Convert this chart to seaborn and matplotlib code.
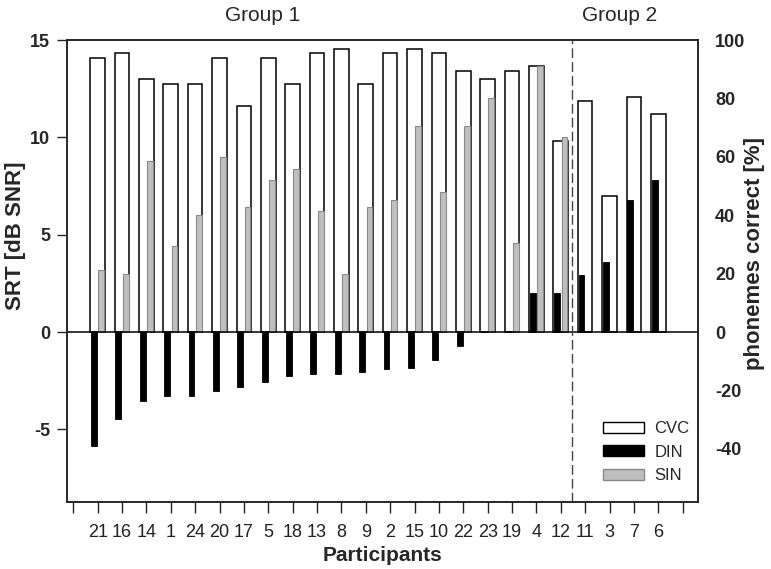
import matplotlib
matplotlib.use('Agg')
import matplotlib.pyplot as plt
from matplotlib.patches import Patch
import numpy as np
import pandas as pd
import seaborn as sns

participants = ['21', '16', '14', '1', '24', '20', '17', '5', '18', '13', '8', '9',
                '2', '15', '10', '22', '23', '19', '4', '12', '11', '3', '7', '6']
cvc_pct = [94, 95.5, 86.5, 85, 85, 94, 77.5, 94, 85, 95.5, 97, 85,
           95.5, 97, 95.5, 89.5, 86.5, 89.5, 91, 65.5, 79, 46.5, 80.5, 74.5]
din_srt = [-5.85, -4.45, -3.55, -3.3, -3.3, -3.0, -2.8, -2.55, -2.25, -2.15, -2.15, -2.05,
           -1.9, -1.85, -1.45, -0.7, 0.0, 0.05, 2.0, 2.0, 2.95, 3.6, 6.8, 7.8]
sin_srt = [3.2, 3.0, 8.8, 4.4, 6.0, 9.0, 6.4, 7.8, 8.4, 6.2, 3.0, 6.4,
           6.8, 10.6, 7.2, 10.6, 12.0, 4.6, 13.65, 10.0, np.nan, np.nan, np.nan, np.nan]
groups = ['Group 1', 'Group 2']
group_centers = [7.77, 22.4]

# blank slots at both ends, as in the original axis
order = [' '] + participants + ['  ']

sns.set_style('white')
plt.rcParams['font.family'] = ['Liberation Sans', 'DejaVu Sans']
plt.rcParams['axes.unicode_minus'] = False

fig = plt.figure(figsize=(7.71, 5.69), dpi=100)
ax = fig.add_axes([0.0865, 0.1186, 0.8192, 0.8111])
ax2 = ax.twinx()

cvc = pd.DataFrame({'participant': participants, 'cvc': cvc_pct})
sns.barplot(data=cvc, x='participant', y='cvc', order=order, color='white',
            edgecolor='black', linewidth=1.1, width=0.6, saturation=1,
            errorbar=None, ax=ax2)

tests = pd.DataFrame({'participant': participants * 2,
                      'test': ['DIN'] * len(participants) + ['SIN'] * len(participants),
                      'srt': din_srt + sin_srt})
sns.barplot(data=tests, x='participant', y='srt', hue='test', order=order,
            hue_order=['DIN', 'SIN'], palette={'DIN': 'black', 'SIN': '#bfbfbf'},
            width=0.6, gap=0.2, saturation=1, errorbar=None, legend=False, ax=ax)
for bar in ax.containers[0]:
    bar.set_edgecolor('black')
    bar.set_linewidth(0.6)
for bar in ax.containers[1]:
    bar.set_edgecolor('#8a8a8a')
    bar.set_linewidth(0.8)

ax.set_zorder(ax2.get_zorder() + 1)
ax.patch.set_visible(False)

ax.set_ylim(-8.7, 15)
ax2.set_ylim(-58, 100)
ax.set_xlim(-0.27, 25.64)
ax.set_yticks([-5, 0, 5, 10, 15])
ax2.set_yticks([-40, -20, 0, 20, 40, 60, 80, 100])
ax.set_xticks(range(len(order)))
ax.set_xticklabels(order)

ax.axhline(0, color='black', lw=1.1, zorder=1)
ax.axvline(20.45, color='#444444', lw=1, ls=(0, (7, 3)))

ax.tick_params(axis='x', direction='out', length=8, width=1, pad=8, labelsize=13,
               bottom=True, colors='#222222')
ax.tick_params(axis='y', direction='out', length=7, width=1, pad=5, labelsize=13,
               left=True)
ax2.tick_params(axis='y', length=0, pad=12, labelsize=13)
for lab in ax.get_yticklabels() + ax2.get_yticklabels():
    lab.set_fontweight('bold')

ax.set_xlabel('Participants', fontsize=15, fontweight='bold', labelpad=4)
ax.set_ylabel('SRT [dB SNR]', fontsize=16, fontweight='bold')
ax2.set_ylabel('phonemes correct [%]', fontsize=16, fontweight='bold')
ax.yaxis.set_label_coords(-0.064, 0.575)
ax2.yaxis.set_label_coords(1.072, 0.538)

for sp in list(ax.spines.values()) + list(ax2.spines.values()):
    sp.set_color('#222222')
    sp.set_linewidth(1.1)

for name, xc in zip(groups, group_centers):
    ax.text(xc, 1.054, name, transform=ax.get_xaxis_transform(),
            ha='center', va='center', fontsize=15)

handles = [Patch(facecolor='white', edgecolor='black', linewidth=1),
           Patch(facecolor='black', edgecolor='black'),
           Patch(facecolor='#bfbfbf', edgecolor='#8a8a8a')]
ax.legend(handles, ['CVC', 'DIN', 'SIN'], loc='lower right',
          bbox_to_anchor=(0.986, 0.04), frameon=False, fontsize=12,
          handlelength=2.46, handleheight=0.66, labelspacing=0.5,
          handletextpad=0.6, borderpad=0, borderaxespad=0)

fig.savefig('out.png', dpi=100)
